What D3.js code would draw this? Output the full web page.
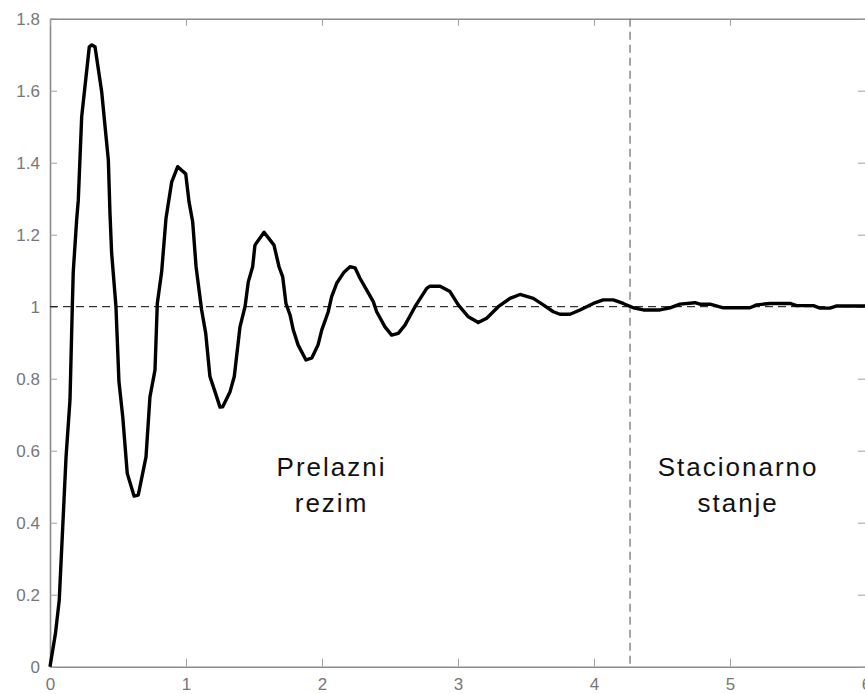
<!DOCTYPE html>
<html>
<head>
<meta charset="utf-8">
<script src="https://cdn.jsdelivr.net/npm/d3@7"></script>
<style>
  body { margin: 0; background: #fff; }
  svg { display: block; font-family: "Liberation Sans", Arial, sans-serif; }
</style>
</head>
<body>
<svg id="chart"></svg>
<script>
// step response (time, amplitude)
const timeValues = [
  0, 0.04, 0.068, 0.103, 0.118, 0.147, 0.164, 0.171, 0.196, 0.208, 0.233, 0.257,
  0.289, 0.307, 0.331, 0.380, 0.429, 0.441, 0.453, 0.485, 0.507, 0.535, 0.568,
  0.618, 0.649, 0.706, 0.735, 0.772, 0.789, 0.821, 0.853, 0.895, 0.939, 0.998,
  1.022, 1.049, 1.074, 1.115, 1.145, 1.176, 1.213, 1.25, 1.27, 1.324, 1.355,
  1.397, 1.434, 1.458, 1.49, 1.507, 1.574, 1.647, 1.684, 1.711, 1.735, 1.765,
  1.789, 1.824, 1.882, 1.926, 1.971, 1.998, 2.046, 2.071, 2.108, 2.162, 2.206,
  2.243, 2.279, 2.329, 2.377, 2.402, 2.463, 2.512, 2.561, 2.61, 2.684, 2.77,
  2.794, 2.868, 2.941, 3.002, 3.076, 3.149, 3.211, 3.296, 3.382, 3.456, 3.554,
  3.627, 3.701, 3.75, 3.824, 3.897, 3.995, 4.068, 4.142, 4.215, 4.289, 4.363,
  4.485, 4.559, 4.632, 4.743, 4.779, 4.853, 4.951, 5.147, 5.196, 5.294, 5.441,
  5.49, 5.613, 5.662, 5.735, 5.785, 6.0
];
const responseValues = [
  0, 0.092, 0.185, 0.463, 0.583, 0.741, 1.0, 1.097, 1.241, 1.296, 1.528, 1.611,
  1.722, 1.727, 1.722, 1.597, 1.407, 1.26, 1.15, 1.0, 0.792, 0.694, 0.537,
  0.474, 0.477, 0.583, 0.75, 0.824, 1.009, 1.097, 1.246, 1.347, 1.389, 1.369,
  1.292, 1.236, 1.111, 0.991, 0.926, 0.806, 0.764, 0.721, 0.722, 0.764, 0.806,
  0.944, 1.0, 1.069, 1.111, 1.171, 1.207, 1.171, 1.111, 1.083, 1.009, 0.977,
  0.935, 0.894, 0.852, 0.858, 0.894, 0.935, 0.986, 1.028, 1.065, 1.096, 1.111,
  1.108, 1.079, 1.046, 1.014, 0.986, 0.944, 0.921, 0.926, 0.949, 1.0, 1.051,
  1.057, 1.057, 1.042, 1.005, 0.972, 0.956, 0.968, 1.0, 1.023, 1.034, 1.023,
  1.005, 0.986, 0.979, 0.979, 0.991, 1.009, 1.019, 1.019, 1.009, 0.997, 0.991,
  0.991, 0.997, 1.007, 1.011, 1.007, 1.007, 0.997, 0.997, 1.005, 1.009, 1.009,
  1.003, 1.003, 0.996, 0.996, 1.002, 1.002
];

const xTicks = [0, 1, 2, 3, 4, 5, 6];
const yTicks = [0, 0.2, 0.4, 0.6, 0.8, 1, 1.2, 1.4, 1.6, 1.8];
const setpoint = 1;
const settleTime = 4.265;
const regionLabels = [
  { t: 2.07, lines: ["Prelazni", "rezim"] },
  { t: 5.06, lines: ["Stacionarno", "stanje"] }
];

const width = 865;
const height = 694;
const margin = { top: 18.7, right: -1, bottom: 27.3, left: 50 };

const svg = d3.select("#chart").attr("width", width).attr("height", height);

const x = d3.scaleLinear().domain([0, 6]).range([margin.left, width - margin.right]);
const y = d3.scaleLinear().domain([0, 1.8]).range([height - margin.bottom, margin.top]);

const axisColor = "#8a8a8a";
const labelColor = "#777";

function styleAxis(g) {
  g.select(".domain").attr("stroke", axisColor).attr("stroke-width", 1.6);
  g.selectAll(".tick line").attr("stroke", "#a0a0a0").attr("stroke-width", 1);
  g.selectAll(".tick text").attr("fill", labelColor).attr("font-size", 17)
    .attr("font-family", "Liberation Sans, Arial, sans-serif");
}

const fmt = d => String(+d.toFixed(1));

// bottom and left axes with inward ticks
svg.append("g")
  .attr("transform", `translate(0,${y(0)})`)
  .call(d3.axisBottom(x).tickValues(xTicks).tickFormat(fmt).tickSizeInner(-8).tickSizeOuter(0).tickPadding(11))
  .call(styleAxis);

svg.append("g")
  .attr("transform", `translate(${x(0)},0)`)
  .call(d3.axisLeft(y).tickValues(yTicks).tickFormat(fmt).tickSizeInner(-7).tickSizeOuter(0).tickPadding(10))
  .call(styleAxis);

// mirrored top and right axes, no labels
svg.append("g")
  .attr("transform", `translate(0,${y(1.8)})`)
  .call(d3.axisTop(x).tickValues(xTicks).tickFormat("").tickSizeInner(-7).tickSizeOuter(0))
  .call(styleAxis);

svg.append("g")
  .attr("transform", `translate(${x(6)},0)`)
  .call(d3.axisRight(y).tickValues(yTicks).tickFormat("").tickSizeInner(-8).tickSizeOuter(0))
  .call(styleAxis);

// reference line at steady-state value
svg.append("line")
  .attr("x1", x(0)).attr("x2", x(6))
  .attr("y1", y(setpoint)).attr("y2", y(setpoint))
  .attr("stroke", "#000")
  .attr("stroke-width", 1)
  .attr("stroke-dasharray", "8,5");

// boundary between transient and steady state
svg.append("line")
  .attr("x1", x(settleTime)).attr("x2", x(settleTime))
  .attr("y1", y(1.8)).attr("y2", y(0))
  .attr("stroke", "#777")
  .attr("stroke-width", 1.3)
  .attr("stroke-dasharray", "8,5");

const points = timeValues.map((t, i) => [t, responseValues[i]]);

svg.append("path")
  .datum(points)
  .attr("fill", "none")
  .attr("stroke", "#000")
  .attr("stroke-width", 3.4)
  .attr("stroke-linejoin", "round")
  .attr("d", d3.line().x(d => x(d[0])).y(d => y(d[1])));

// region labels
regionLabels.forEach(lab => {
  const text = svg.append("text")
    .attr("x", x(lab.t))
    .attr("y", 476)
    .attr("text-anchor", "middle")
    .attr("font-size", 26)
    .attr("letter-spacing", 2)
    .attr("fill", "#111");
  lab.lines.forEach((line, i) => {
    text.append("tspan")
      .attr("x", x(lab.t))
      .attr("dy", i === 0 ? 0 : 35.5)
      .text(line);
  });
});
</script>
</body>
</html>
